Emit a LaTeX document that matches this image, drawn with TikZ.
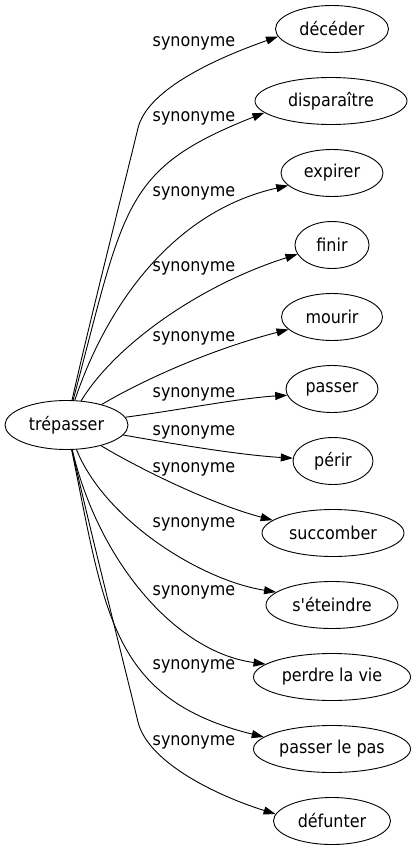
\documentclass[tikz,border=0pt]{standalone}
\usepackage{fontspec}
\setmainfont{DejaVu Sans}[FakeStretch=0.9, Ligatures=TeXOff]
\usetikzlibrary{arrows.meta,shapes.geometric}
\begin{document}
\begin{tikzpicture}[x=1bp,y=-1bp,
  every node/.style={font=\fontsize{17.8}{20}\selectfont},
  word/.style={draw, ellipse, inner sep=0pt, minimum height=47bp, line width=0.9bp},
  lab/.style={inner sep=0pt},
  syn/.style={draw, line width=0.9bp, -{Triangle[length=12bp,width=8bp]}}]
\useasboundingbox (0,0) rectangle (418,851);
% nodes
\node[word, minimum width=123bp, minimum height=49bp] (trep) at (66.5,425) {trépasser};
\node[word, minimum width=113bp] (t1) at (332,29) {décéder};
\node[word, minimum width=152bp] (t2) at (331,101) {disparaître};
\node[word, minimum width=102bp] (t3) at (332,173) {expirer};
\node[word, minimum width=74bp] (t4) at (332,245) {finir};
\node[word, minimum width=101bp] (t5) at (332,317) {mourir};
\node[word, minimum width=92bp] (t6) at (332,389) {passer};
\node[word, minimum width=80bp] (t7) at (333,461) {périr};
\node[word, minimum width=142bp] (t8) at (333,533) {succomber};
\node[word, minimum width=132bp] (t9) at (332,605) {s'éteindre};
\node[word, minimum width=157bp] (t10) at (332,677) {perdre la vie};
\node[word, minimum width=157bp] (t11) at (332,749) {passer le pas};
\node[word, minimum width=117bp] (t12) at (332,821) {défunter};
% labels
\node[lab] (l1) at (194,43) {synonyme};
\node[lab] (l2) at (194,118) {synonyme};
\node[lab] (l3) at (194,193) {synonyme};
\node[lab] (l4) at (194,268) {synonyme};
\node[lab] (l5) at (194,338) {synonyme};
\node[lab] (l6) at (194,394) {synonyme};
\node[lab] (l7) at (194,432) {synonyme};
\node[lab] (l8) at (194,469) {synonyme};
\node[lab] (l9) at (194,524) {synonyme};
\node[lab] (l10) at (194,592) {synonyme};
\node[lab] (l11) at (194,666) {synonyme};
\node[lab] (l12) at (194,742) {synonyme};
% edges
\draw[syn] (trep) .. controls (89,324) and (128,170) .. (138,128) .. controls (148,88) and (220,57) .. (t1.188);
\draw[syn] (trep) .. controls (125,205) and (122,169) .. (t2.190);
\draw[syn] (trep) .. controls (105,310) and (170,212) .. (t3.196);
\draw[syn] (trep) .. controls (115,345) and (200,285) .. (t4.195);
\draw[syn] (trep) .. controls (152,375) and (220,347) .. (t5.196);
\draw[syn] (trep) .. controls (180,410) and (240,398) .. (t6.188);
\draw[syn] (trep) .. controls (180,445) and (240,455) .. (t7.176);
\draw[syn] (trep) .. controls (145,472) and (215,505) .. (t8.168);
\draw[syn] (trep) .. controls (105,520) and (200,580) .. (t9.167);
\draw[syn] (trep) .. controls (98,560) and (175,652) .. (t10.169);
\draw[syn] (trep) .. controls (105,612) and (110,699) .. (t11.170);
\draw[syn] (trep) .. controls (89,526) and (128,680) .. (138,722) .. controls (148,762) and (215,795) .. (t12.173);
\end{tikzpicture}
\end{document}
